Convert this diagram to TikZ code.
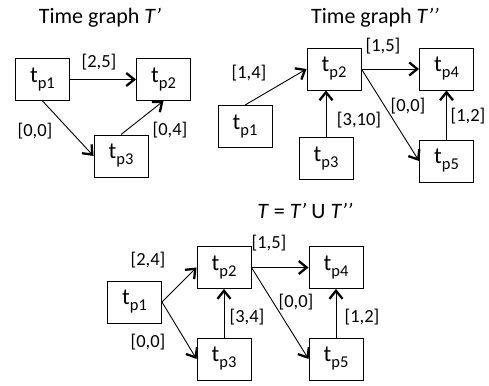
\documentclass[tikz,border=0pt]{standalone}
\usepackage{fontspec}
\setmainfont{Carlito}
\usetikzlibrary{arrows.meta}
\newcommand{\tp}[1]{\fontsize{23}{25}\selectfont t\raisebox{-6pt}{\fontsize{16.5}{18}\selectfont p#1}}
\tikzset{
  tbox/.style={draw,line width=0.9pt,minimum width=54pt,minimum height=42pt,inner sep=0pt},
  tarr/.style={line width=0.9pt,-{Straight Barb[length=8pt,width=13pt,line width=2.3pt]}},
  tlab/.style={font=\fontsize{18.5}{20}\selectfont,inner sep=0pt},
  ttitle/.style={font=\fontsize{22}{24}\selectfont,inner sep=0pt}
}
\begin{document}
\begin{tikzpicture}[x=1pt,y=-1pt]
\useasboundingbox (0,0) rectangle (489,385);
% time graph T'
\node[ttitle] (ta) at (100,18) {Time graph \textit{T’}};
\node[tbox] (a1) at (42.5,79.5) {\tp{1}};
\node[tbox] (a2) at (163.5,79.5) {\tp{2}};
\node[tbox] (a3) at (121,156) {\tp{3}};
\draw[tarr] (a1) -- (a2);
\draw[tarr] (a1.south) -- (a3.west);
\draw[tarr] (a3.north) -- (a2.south);
\node[tlab] (la1) at (99,62) {[2,5]};
\node[tlab] (la2) at (35,131) {[0,0]};
\node[tlab] (la3) at (170,130) {[0,4]};
% time graph T''
\node[ttitle] (tb) at (375,18) {Time graph \textit{T’’}};
\node[tbox] (b1) at (245,126.5) {\tp{1}};
\node[tbox] (b2) at (334,69) {\tp{2}};
\node[tbox] (b3) at (326,158.5) {\tp{3}};
\node[tbox] (b4) at (446.5,69) {\tp{4}};
\node[tbox] (b5) at (446.5,161) {\tp{5}};
\draw[tarr] (b1.north) -- (b2.west);
\draw[tarr] (b2) -- (b4);
\draw[tarr] (b2.east) -- (b5.west);
\draw[tarr] (b3.north) -- (b3.north |- b2.south);
\draw[tarr] (b5) -- (b4);
\node[tlab] (lb1) at (249,73) {[1,4]};
\node[tlab] (lb2) at (383,46) {[1,5]};
\node[tlab] (lb3) at (408,106) {[0,0]};
\node[tlab] (lb4) at (359,120) {[3,10]};
\node[tlab] (lb5) at (468,116) {[1,2]};
% union T
\node[ttitle] (tc) at (305,211) {\textit{T} = \textit{T’} U \textit{T’’}};
\node[tbox] (c1) at (134.5,302) {\tp{1}};
\node[tbox] (c2) at (224,267.5) {\tp{2}};
\node[tbox] (c3) at (224,359) {\tp{3}};
\node[tbox] (c4) at (336,267.5) {\tp{4}};
\node[tbox] (c5) at (336,359) {\tp{5}};
\draw[tarr] (c1.east) -- (c2.west);
\draw[tarr] (c1.east) -- (c3.west);
\draw[tarr] (c3) -- (c2);
\draw[tarr] (c2) -- (c4);
\draw[tarr] (c2.east) -- (c5.west);
\draw[tarr] (c5) -- (c4);
\node[tlab] (lc1) at (148,260) {[2,4]};
\node[tlab] (lc2) at (269,243) {[1,5]};
\node[tlab] (lc3) at (148,342) {[0,0]};
\node[tlab] (lc4) at (247,317) {[3,4]};
\node[tlab] (lc5) at (296,302) {[0,0]};
\node[tlab] (lc6) at (362,317) {[1,2]};
\end{tikzpicture}
\end{document}
